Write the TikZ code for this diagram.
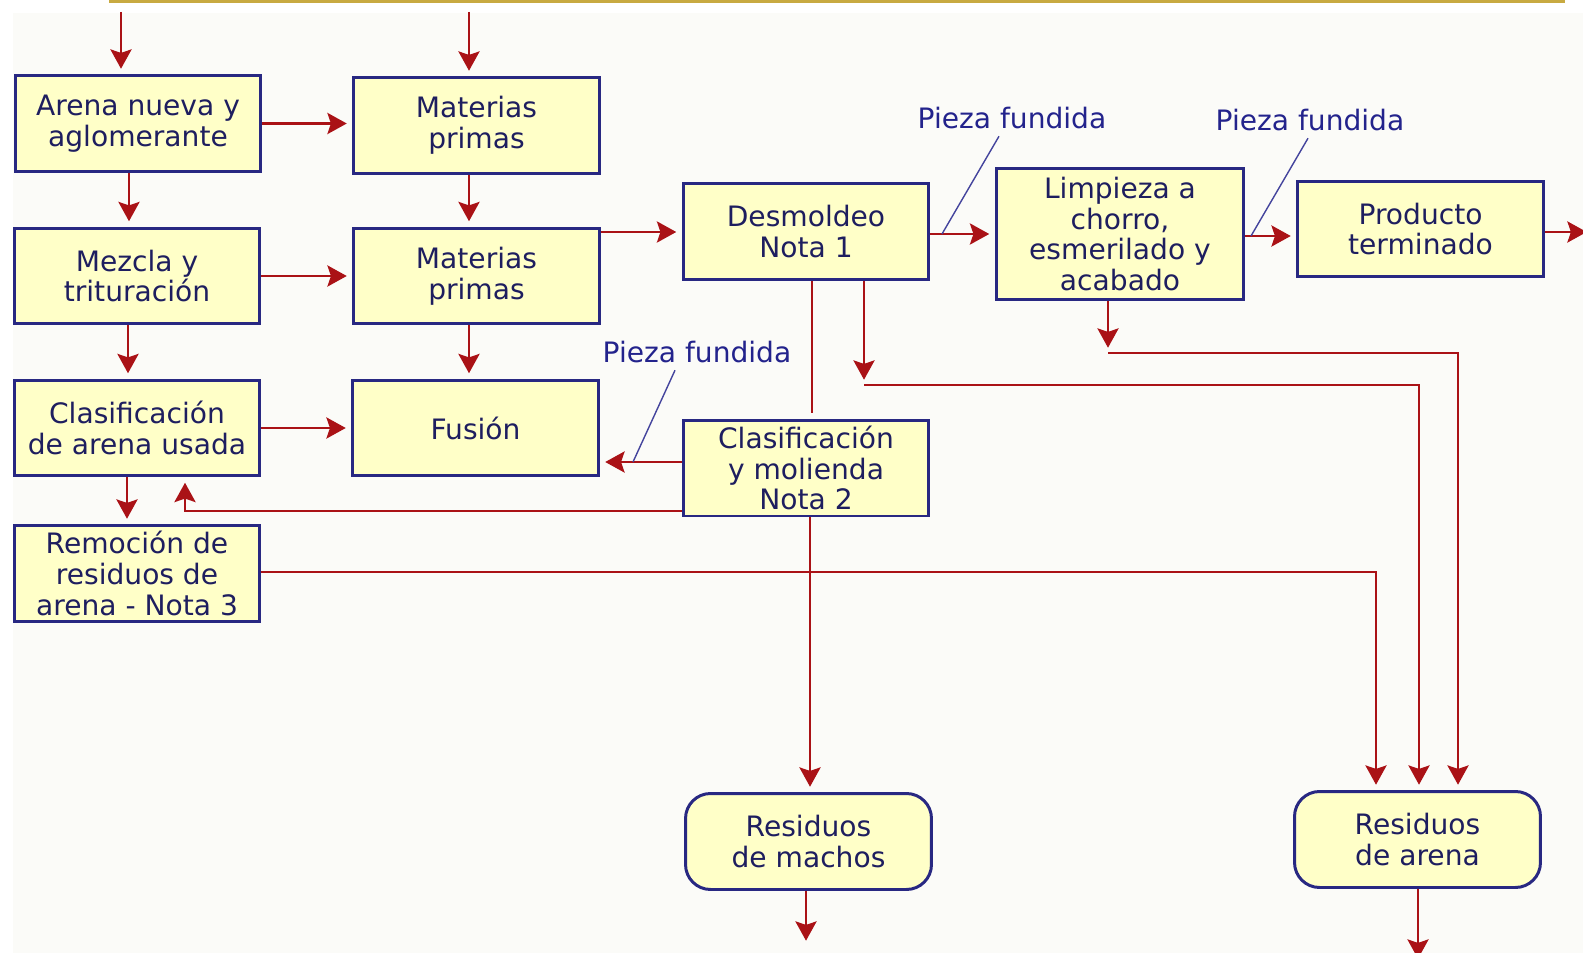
\documentclass[tikz,border=0pt]{standalone}
\usepackage{fontspec}
\setmainfont{DejaVu Sans}
\usepackage{tikz}
\usetikzlibrary{
  arrows.meta
  , calc
}

\definecolor{boxfill}{RGB}{255,255,200}
\definecolor{boxline}{RGB}{40,40,130}
\definecolor{boxtext}{RGB}{30,30,95}
\definecolor{labelblue}{RGB}{35,35,140}
\definecolor{flowred}{RGB}{170,18,22}
\definecolor{bgpaper}{RGB}{251,251,248}
\definecolor{topgold}{RGB}{200,170,65}

\begin{document}
\begin{tikzpicture}[
    x=0.02cm, y=-0.02cm
  ]
  \newcommand\castNote[4]{
    \node [note text] (#1) at (#2) {Pieza fundida};
    \draw [note line] (#1.south -| #3,0) -- (#4);
  };

  \tikzstyle{box template}=[rectangle, draw=boxline, fill=boxfill, line width=1.7pt, minimum width=4.92cm, minimum height=1.92cm, align=center, text=boxtext, font=\fontsize{16pt}{17.5pt}\selectfont, inner sep=0pt];
  \tikzstyle{end template}=[box template, rounded corners=0.5cm];
  \tikzstyle{flow}=[draw=flowred, line width=1.5pt, -{Stealth[length=11pt,width=12pt,inset=2pt]}, shorten >=3pt];
  \tikzstyle{note text}=[text=labelblue, font=\fontsize{16pt}{17.5pt}\selectfont, inner sep=4pt];
  \tikzstyle{note line}=[draw=labelblue!85, line width=0.8pt];

  \useasboundingbox (0,0) rectangle (1583,953);
  \fill [bgpaper] (13,13) rectangle (1583,953);
  \draw [topgold, line width=2pt] (109,1.7) -- (1565,1.7);

  % left column
  \node [box template] (arena) at (138,123.5) {Arena nueva y\\aglomerante};
  \node [box template] (mezcla) at (137,276) {Mezcla y\\trituración};
  \node [box template] (clasif) at (137,428) {Clasificación\\de arena usada};
  \node [box template] (remocion) at (137,573.5) {Remoción de\\residuos de\\arena - Nota 3};

  % second column
  \node [box template] (mat1) at (476.5,125.5) {Materias\\primas};
  \node [box template] (mat2) at (476.5,276) {Materias\\primas};
  \node [box template] (fusion) at (475.5,428) {Fusión};

  % right part
  \node [box template] (desmoldeo) at (806,231.5) {Desmoldeo\\Nota 1};
  \node [box template, minimum width=4.96cm, minimum height=2.64cm] (limpieza) at (1120,234) {Limpieza a\\chorro,\\esmerilado y\\acabado};
  \node [box template] (producto) at (1420.5,229) {Producto\\terminado};
  \node [box template] (molienda) at (806,468) {Clasificación\\y molienda\\Nota 2};
  \node [end template] (machos) at (808.5,841.5) {Residuos\\de machos};
  \node [end template] (resarena) at (1417.5,839.5) {Residuos\\de arena};

  \coordinate (srcA) at (121,12);
  \coordinate (srcM) at (469,12);
  \coordinate (sinkP) at (1592,232);
  \coordinate (sinkM) at (806,946);
  \coordinate (sinkR) at (1418,964);
  \coordinate (j1) at (864,385);
  \coordinate (j2) at (1108,353);

  \draw [flow] (srcA) -- (arena.north -| srcA);
  \draw [flow] (srcM) -- (mat1.north -| srcM);
  \draw [flow] (arena.east) -- (mat1.west |- arena.east);
  \draw [flow] (arena.south -| 129,0) -- (mezcla.north -| 129,0);
  \draw [flow] (mat1.south -| 469,0) -- (mat2.north -| 469,0);
  \draw [flow] (mezcla.east) -- (mat2.west);
  \draw [flow] (mat2.east |- 0,232) -- (desmoldeo.west |- 0,232);
  \draw [flow] (mezcla.south -| 128,0) -- (clasif.north -| 128,0);
  \draw [flow] (mat2.south -| 469,0) -- (fusion.north -| 469,0);
  \draw [flow] (clasif.east) -- (fusion.west);
  \draw [flow] (clasif.south -| 127,0) -- (remocion.north -| 127,0);
  \draw [flow] (molienda.west |- 0,511) -| (clasif.south -| 185,0);
  \draw [flow] (molienda.west |- 0,462) -- (fusion.east |- 0,462);
  \draw [flow] (desmoldeo.east |- 0,234) -- (limpieza.west |- 0,234);
  \draw [flow] (limpieza.east |- 0,236) -- (producto.west |- 0,236);
  \draw [flow] (producto.east |- 0,232) -- (sinkP);

  \draw [flow, -] (desmoldeo.south -| 812,0) -- (molienda.north -| 812,0);
  \draw [flow] (molienda.south -| 810,0) -- (machos.north -| 810,0);
  \draw [flow] (machos.south -| sinkM) -- (sinkM);

  \draw [flow] (desmoldeo.south -| j1) -- (j1);
  \draw [flow] (j1) -| (resarena.north -| 1419,0);
  \draw [flow] (limpieza.south -| j2) -- (j2);
  \draw [flow] (j2) -| (resarena.north -| 1458,0);
  \draw [flow] (remocion.east |- 0,572) -| (resarena.north -| 1376,0);
  \draw [flow] (resarena.south -| sinkR) -- (sinkR);

  \coordinate (hit1) at (942,234);
  \coordinate (hit2) at (1251,236);
  \coordinate (hit3) at (633,462);
  \castNote{lab1}{1012,118}{999}{hit1}
  \castNote{lab2}{1310,120}{1308}{hit2}
  \castNote{lab3}{697,352}{675}{hit3}

\end{tikzpicture}
\end{document}
